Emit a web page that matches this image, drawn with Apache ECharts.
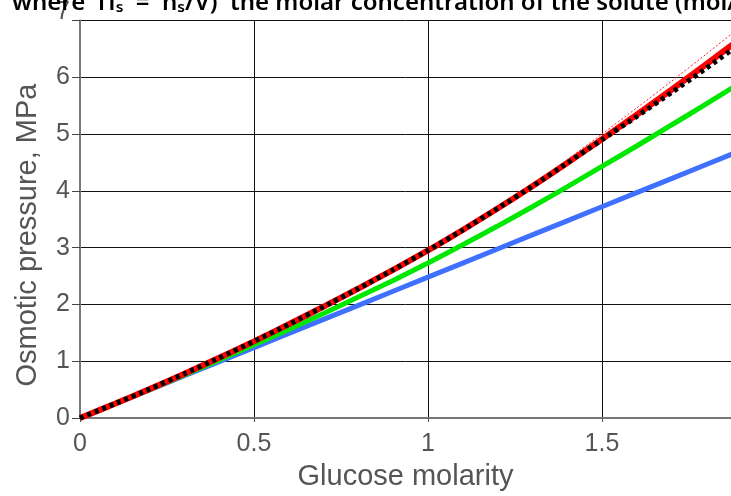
<!DOCTYPE html>
<html>
<head>
<meta charset="utf-8">
<script src="https://cdn.jsdelivr.net/npm/echarts@6/dist/echarts.min.js"></script>
<style>
html,body{margin:0;padding:0;background:#fff;}
#chart{width:731px;height:496px;}
</style>
</head>
<body>
<div id="chart"></div>
<script>
// Glucose molarity (mol/L)
var molarity = [0, 0.1, 0.2, 0.3, 0.4, 0.5, 0.6, 0.7, 0.8, 0.9, 1.0, 1.1, 1.2, 1.3, 1.4, 1.5, 1.6, 1.7, 1.8, 1.9];
// Osmotic pressure, MPa
var idealVantHoff = [0, 0.248, 0.496, 0.744, 0.992, 1.24, 1.488, 1.736, 1.984, 2.232, 2.48, 2.728, 2.976, 3.224, 3.472, 3.72, 3.968, 4.216, 4.464, 4.712];
var greenModel   = [0, 0.25, 0.50, 0.76, 1.02, 1.29, 1.56, 1.84, 2.13, 2.42, 2.73, 3.05, 3.38, 3.72, 4.07, 4.43, 4.79, 5.16, 5.53, 5.91];
var redModel     = [0, 0.25, 0.51, 0.78, 1.06, 1.35, 1.65, 1.96, 2.28, 2.61, 2.95, 3.31, 3.69, 4.08, 4.49, 4.91, 5.34, 5.78, 6.23, 6.69];
var redThin      = [0, 0.25, 0.51, 0.78, 1.06, 1.35, 1.65, 1.96, 2.28, 2.61, 2.95, 3.31, 3.69, 4.11, 4.55, 5.00, 5.46, 5.93, 6.41, 6.90];
var measured     = [0, 0.25, 0.51, 0.78, 1.06, 1.35, 1.65, 1.96, 2.28, 2.61, 2.95, 3.31, 3.69, 4.08, 4.49, 4.90, 5.31, 5.73, 6.16, 6.60];
var yTicks = [0, 1, 2, 3, 4, 5, 6, 7];
var xTicks = [0, 0.5, 1, 1.5];

function pairs(ys){ return molarity.map(function(x,i){ return [x, ys[i]]; }); }

var chart = echarts.init(document.getElementById('chart'), null, {renderer:'canvas'});
var labelFont = '"Liberation Sans", Arial, sans-serif';
chart.setOption({
  animation: false,
  backgroundColor: '#ffffff',
  grid: { left: 80, top: 17, bottom: 72, right: 0, containLabel: false },
  xAxis: {
    type: 'value', min: 0, max: 1.871, interval: 0.5,
    name: 'Glucose molarity', nameLocation: 'middle', nameGap: 44,
    nameTextStyle: { fontFamily: labelFont, fontSize: 29, color: '#555' },
    axisLine: { onZero: false, lineStyle: { color: '#777', width: 2 } },
    axisTick: { show: true, length: 4, lineStyle: { color: '#555' } },
    axisLabel: { fontFamily: labelFont, fontSize: 25, color: '#555', margin: 14, showMaxLabel: false,
      formatter: function(v){ return xTicks.indexOf(v) >= 0 ? String(v) : ''; } },
    splitLine: { show: true, lineStyle: { color: '#111', width: 1 } }
  },
  yAxis: {
    type: 'value', min: 0, max: 7, interval: 1,
    axisLine: { show: true, onZero: false, lineStyle: { color: '#777', width: 2 } },
    axisTick: { show: true, length: 8, lineStyle: { color: '#444' } },
    axisLabel: { fontFamily: labelFont, fontSize: 25, color: '#555', margin: 10,
      formatter: function(v){ return yTicks.indexOf(v) >= 0 ? (v === 7 ? '{t|7}' : String(v)) : ''; },
      rich: { t: { fontFamily: labelFont, fontSize: 25, color: '#555', padding: [0,0,16,0] } } },
    splitLine: { show: true, lineStyle: { color: '#111', width: 1 } }
  },
  graphic: [
    { type: 'text', left: 12, top: -9, z: 100,
      style: { text: 'where  Πₛ  =  nₛ/V)  the molar concentration of the solute (mol/L)',
        font: '600 24px "Noto Sans", "Open Sans", sans-serif', fill: '#000' } },
    { type: 'text', x: 28, y: 235, rotation: Math.PI/2, z: 100,
      style: { text: 'Osmotic pressure, MPa', font: '29px "Liberation Sans", Arial, sans-serif',
        fill: '#555', textAlign: 'center', textVerticalAlign: 'middle' } }
  ],
  series: [
    { type: 'line', data: pairs(idealVantHoff), showSymbol: false, smooth: false,
      lineStyle: { color: '#4070ff', width: 5 }, z: 2 },
    { type: 'line', data: pairs(greenModel), showSymbol: false, smooth: 0.2,
      lineStyle: { color: '#00e800', width: 5 }, z: 3 },
    { type: 'line', data: pairs(redModel), showSymbol: false, smooth: 0.2,
      lineStyle: { color: '#ff0000', width: 6 }, z: 4 },
    { type: 'line', data: pairs(redThin), showSymbol: false, smooth: 0.2,
      lineStyle: { color: '#ff2020', width: 1, type: [2, 2] }, z: 5 },
    { type: 'line', data: pairs(measured), showSymbol: false, smooth: 0.2,
      lineStyle: { color: '#000000', width: 5, type: [4, 4] }, z: 6 }
  ]
});
</script>
</body>
</html>
